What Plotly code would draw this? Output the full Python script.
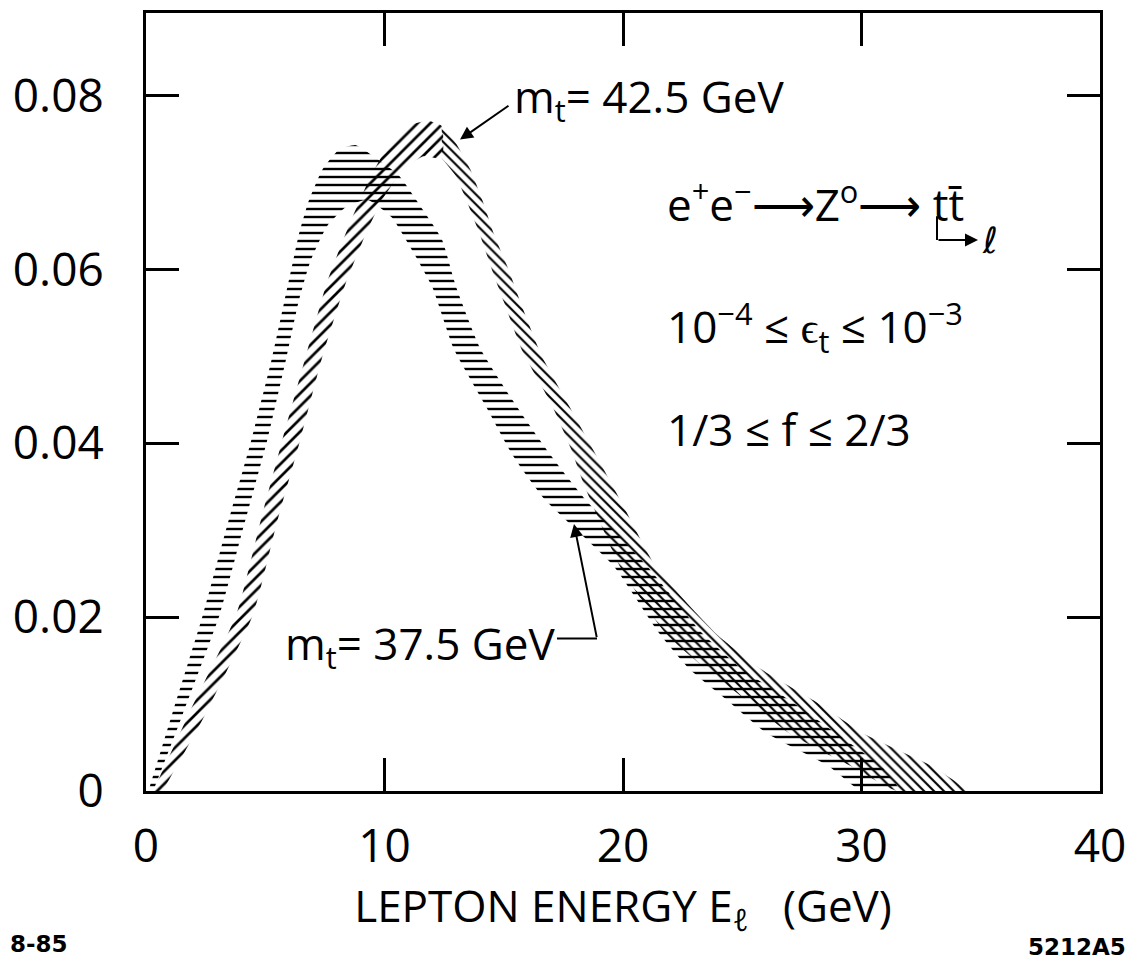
import plotly.graph_objects as go

# ---------------- data ----------------
x_tick_vals = [0, 10, 20, 30, 40]
x_tick_text = ["0", "10", "20", "30", "40"]
y_tick_vals = [0, 0.02, 0.04, 0.06, 0.08]
y_tick_text = ["0", "0.02", "0.04", "0.06", "0.08"]

# band for m_t = 37.5 GeV (upper and lower edge of the hatched band)
a_upper_x = [0.1, 1.1, 2.4, 3.4, 4.4, 5.3, 5.8, 6.1, 6.4, 6.8, 7.4, 8.1, 8.8, 9.5, 10.6, 11.6,
             12.4, 13.0, 14.0, 15.6, 17.0, 18.4, 21.0, 23.3, 25.0, 26.9, 28.9, 30.8, 31.6]
a_upper_y = [0.0, 0.0089, 0.0204, 0.0305, 0.0402, 0.0500, 0.0563, 0.0601, 0.0639, 0.0677, 0.0715,
             0.0738, 0.0743, 0.0731, 0.0708, 0.0669, 0.0635, 0.0580, 0.0510, 0.0440, 0.0385, 0.0336,
             0.0259, 0.0182, 0.0140, 0.0106, 0.0067, 0.0029, 0.0]
a_lower_x = [0.3, 1.55, 3.1, 4.1, 5.07, 5.9, 6.4, 6.9, 7.6, 8.4, 9.3, 10.3, 11.2, 12.0, 12.9, 14.3,
             15.4, 16.7, 19.6, 21.5, 22.8, 24.3, 26.0, 28.6, 30.0]
a_lower_y = [0.0, 0.0089, 0.0204, 0.0305, 0.0402, 0.0500, 0.0563, 0.0610, 0.0650, 0.0672, 0.0680,
             0.0660, 0.0620, 0.0580, 0.0509, 0.0440, 0.0385, 0.0336, 0.0259, 0.0182, 0.0140, 0.0106,
             0.0067, 0.0029, 0.0]

# band for m_t = 42.5 GeV, rising part
b_rise_upper_x = [0.3, 1.8, 3.8, 4.8, 5.7, 6.7, 7.6, 8.5, 9.3, 10.2, 11.0, 11.8, 12.4]
b_rise_upper_y = [0.0, 0.0089, 0.0204, 0.0310, 0.0402, 0.0500, 0.0586, 0.0650, 0.0700, 0.0745,
                  0.0765, 0.0771, 0.0765]
b_rise_lower_x = [0.7, 2.5, 4.5, 5.5, 6.45, 7.4, 8.4, 9.2, 9.9, 10.8, 11.6, 12.4]
b_rise_lower_y = [0.0, 0.0089, 0.0204, 0.0310, 0.0402, 0.0500, 0.0586, 0.0640, 0.0680, 0.0715,
                  0.0730, 0.0728]
# band for m_t = 42.5 GeV, falling part
b_fall_upper_x = [12.4, 13.0, 13.6, 14.1, 14.6, 15.2, 15.8, 16.6, 17.8, 18.8, 19.9, 21.4, 23.9,
                  25.8, 28.0, 30.1, 33.0, 34.4]
b_fall_upper_y = [0.0765, 0.0745, 0.0715, 0.0680, 0.0640, 0.0600, 0.0555, 0.0500, 0.0440, 0.0390,
                  0.0334, 0.0257, 0.0181, 0.0140, 0.0104, 0.0066, 0.0028, 0.0]
b_fall_lower_x = [12.4, 13.0, 13.5, 14.0, 14.5, 15.0, 15.8, 17.0, 17.8, 18.4, 19.9, 21.8, 23.5,
                  25.2, 27.0, 29.6, 31.5]
b_fall_lower_y = [0.0728, 0.0707, 0.0675, 0.0640, 0.0600, 0.0563, 0.0505, 0.0445, 0.0395, 0.0350,
                  0.0257, 0.0181, 0.0140, 0.0104, 0.0066, 0.0028, 0.0]

# ---------------- layout geometry ----------------
W, H = 1138, 960
L, R, T, B = 146, 38, 10, 169
X_RANGE = [0, 40]
Y_RANGE = [0, 0.0895]
FONT = "Open Sans"


def px2x(px):
    return X_RANGE[0] + (px - L) / (W - L - R) * (X_RANGE[1] - X_RANGE[0])


def py2y(py):
    return Y_RANGE[0] + (H - B - py) / (H - T - B) * (Y_RANGE[1] - Y_RANGE[0])


def px2paper(px):
    return (px - L) / (W - L - R)


def py2paper(py):
    return (H - B - py) / (H - T - B)


fig = go.Figure()


def add_band(xu, yu, xl, yl, shape, size, name):
    fig.add_trace(go.Scatter(
        x=list(xu) + list(xl)[::-1],
        y=list(yu) + list(yl)[::-1],
        mode="lines",
        fill="toself",
        line=dict(width=0, shape="spline", smoothing=0.5, color="black"),
        fillcolor="rgba(0,0,0,0)",
        fillpattern=dict(shape=shape, fgcolor="black", bgcolor="rgba(0,0,0,0)",
                         size=size, solidity=0.3, fillmode="replace"),
        hoverinfo="skip",
        showlegend=False,
        name=name,
    ))


add_band(a_upper_x, a_upper_y, a_lower_x, a_lower_y, "-", 8, "m_t = 37.5 GeV")
add_band(b_rise_upper_x, b_rise_upper_y, b_rise_lower_x, b_rise_lower_y, "/", 9, "m_t = 42.5 GeV (rise)")
add_band(b_fall_upper_x, b_fall_upper_y, b_fall_lower_x, b_fall_lower_y, "\\", 7, "m_t = 42.5 GeV (fall)")

axis_common = dict(
    showline=True, linewidth=3, linecolor="black", mirror="ticks",
    ticks="inside", ticklen=33, tickwidth=2.5, tickcolor="black",
    showgrid=False, zeroline=False,
    tickfont=dict(family=FONT, size=46, color="black"),
)

fig.update_layout(
    width=W, height=H,
    margin=dict(l=L, r=R, t=T, b=B, pad=0),
    paper_bgcolor="white", plot_bgcolor="white",
    font=dict(family=FONT, color="black"),
    xaxis=dict(range=X_RANGE, tickvals=x_tick_vals, ticktext=x_tick_text,
               ticklabelstandoff=13,
               title=dict(text="LEPTON ENERGY E<sub>ℓ</sub>   (GeV)",
                          font=dict(family=FONT, size=44, color="black"), standoff=17),
               **axis_common),
    yaxis=dict(range=Y_RANGE, tickvals=y_tick_vals, ticktext=y_tick_text,
               ticklabelstandoff=30, **axis_common),
)

TXT = dict(family=FONT, size=44, color="black")
ann = []
# m_t = 42.5 GeV label + arrow
ann.append(dict(x=px2x(512), y=py2y(96), xref="x", yref="y", text="m<sub>t</sub>= 42.5 GeV",
                showarrow=False, xanchor="left", yanchor="middle", font=TXT))
ann.append(dict(x=px2x(460), y=py2y(137), ax=px2x(510), ay=py2y(102), xref="x", yref="y",
                axref="x", ayref="y", text="", showarrow=True, arrowhead=2, arrowsize=1.3,
                arrowwidth=2, arrowcolor="black"))
# process
ann.append(dict(x=px2x(665), y=py2y(200), xref="x", yref="y",
                text="e<sup>+</sup>e<sup>−</sup>⟶Z<sup>o</sup>⟶ tt̄",
                showarrow=False, xanchor="left", yanchor="middle", font=TXT))
ann.append(dict(x=px2x(990), y=py2y(238), xref="x", yref="y", text="ℓ",
                showarrow=False, xanchor="center", yanchor="middle",
                font=dict(family="DejaVu Sans", size=36, color="black")))
ann.append(dict(x=px2x(978), y=py2y(238), ax=px2x(937), ay=py2y(238), xref="x", yref="y",
                axref="x", ayref="y", text="", showarrow=True, arrowhead=2, arrowsize=1.3,
                arrowwidth=2, arrowcolor="black"))
# parameter ranges
ann.append(dict(x=px2x(665), y=py2y(325), xref="x", yref="y",
                text="10<sup>−4</sup> ≤ ϵ<sub>t</sub> ≤ 10<sup>−3</sup>",
                showarrow=False, xanchor="left", yanchor="middle", font=TXT))
ann.append(dict(x=px2x(665), y=py2y(428), xref="x", yref="y", text="1/3 ≤ f ≤ 2/3",
                showarrow=False, xanchor="left", yanchor="middle", font=TXT))
# m_t = 37.5 GeV label + arrow
ann.append(dict(x=px2x(283), y=py2y(645), xref="x", yref="y", text="m<sub>t</sub>= 37.5 GeV",
                showarrow=False, xanchor="left", yanchor="middle", font=TXT))
ann.append(dict(x=px2x(574), y=py2y(523), ax=px2x(597), ay=py2y(638), xref="x", yref="y",
                axref="x", ayref="y", text="", showarrow=True, arrowhead=2, arrowsize=1.3,
                arrowwidth=2, arrowcolor="black"))
# corner ids
ann.append(dict(x=px2paper(8), y=py2paper(945), xref="paper", yref="paper", text="<b>8-85</b>",
                showarrow=False, xanchor="left", yanchor="middle",
                font=dict(family="DejaVu Sans", size=23, color="black")))
ann.append(dict(x=px2paper(1128), y=py2paper(948), xref="paper", yref="paper", text="<b>5212A5</b>",
                showarrow=False, xanchor="right", yanchor="middle",
                font=dict(family="DejaVu Sans", size=23, color="black")))
fig.update_layout(annotations=ann)

shapes = [
    dict(type="line", xref="x", yref="y", x0=px2x(937), y0=py2y(214), x1=px2x(937), y1=py2y(238),
         line=dict(color="black", width=2)),
    dict(type="line", xref="x", yref="y", x0=px2x(557), y0=py2y(638), x1=px2x(597), y1=py2y(638),
         line=dict(color="black", width=2)),
]
fig.update_layout(shapes=shapes)

fig.write_html("out.html")
